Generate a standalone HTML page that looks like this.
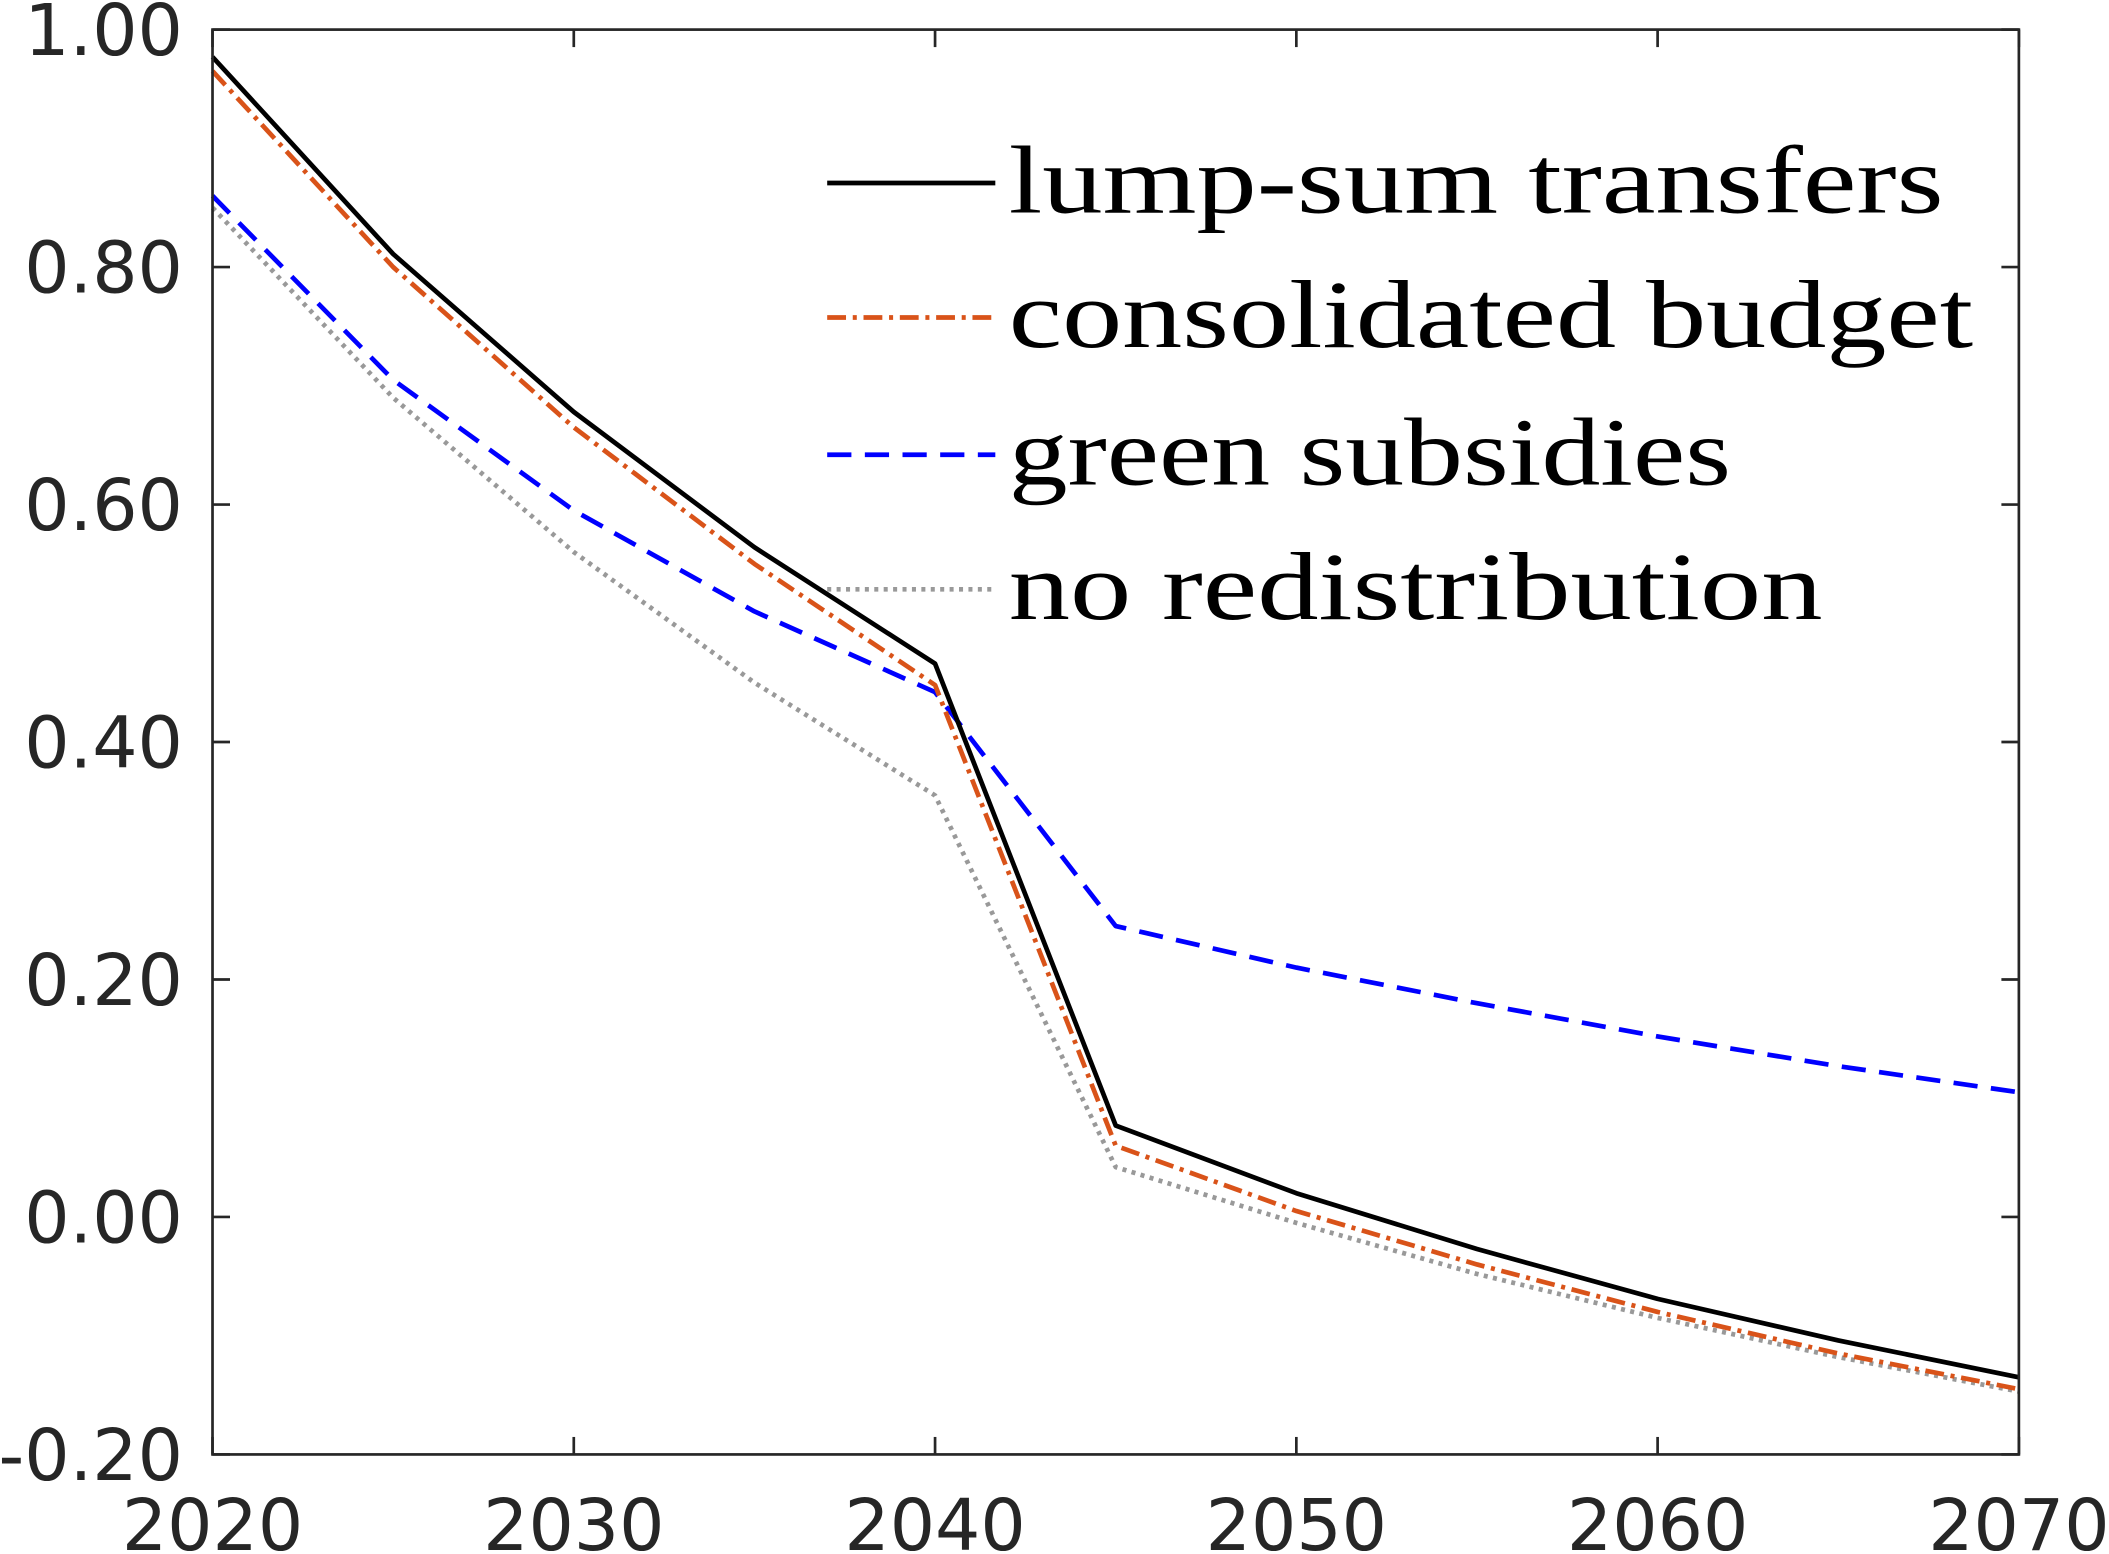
<!DOCTYPE html>
<html><head><meta charset="utf-8"><style>html,body{margin:0;padding:0;background:#fff}svg{display:block}</style></head>
<body>
<svg id="chart" width="2109" height="1554" viewBox="0 0 1568 1155" preserveAspectRatio="none" xmlns="http://www.w3.org/2000/svg">
<g id="plot"></g>
</svg>
<script>
const years = [2020,2025,2030,2035,2040,2045,2050,2055,2060,2065,2070];
const lumpSum = [0.977,0.811,0.678,0.564,0.466,0.077,0.020,-0.027,-0.069,-0.104,-0.135];
const consolidated = [0.965,0.800,0.665,0.550,0.448,0.060,0.005,-0.040,-0.080,-0.115,-0.145];
const greenSubs = [0.860,0.705,0.595,0.510,0.442,0.245,0.210,0.180,0.152,0.127,0.105];
const noRedist = [0.850,0.690,0.560,0.450,0.355,0.042,-0.005,-0.048,-0.085,-0.118,-0.147];
const yTicks = [-0.2,0,0.2,0.4,0.6,0.8,1.0];
const yTickLabels = ["-0.20","0.00","0.20","0.40","0.60","0.80","1.00"];
const xTicks = [2020,2030,2040,2050,2060,2070];
const xTickLabels = ["2020","2030","2040","2050","2060","2070"];
const legendLabels = ["lump-sum transfers","consolidated budget","green subsidies","no redistribution"];

const L=158,R=1501,T=22,B=1081;
const xs=v=>L+(v-2020)/(2070-2020)*(R-L);
const ys=v=>B-(v+0.2)/1.2*(B-T);
const NS="http://www.w3.org/2000/svg";
const g=document.getElementById('plot');
function mk(tag,attrs,parent){const e=document.createElementNS(NS,tag);for(const k in attrs)e.setAttribute(k,attrs[k]);(parent||g).appendChild(e);return e;}

const series=[
 {d:lumpSum,c:"#000000",dash:"",name:"series-lump-sum"},
 {d:consolidated,c:"#d95319",dash:"14 5 3 5",name:"series-consolidated-budget"},
 {d:greenSubs,c:"#0000ff",dash:"18 10",name:"series-green-subsidies"},
 {d:noRedist,c:"#999999",dash:"3 4",name:"series-no-redistribution"}
];
[3,2,1,0].forEach(i=>{const s=series[i];
 const p=mk('polyline',{points:s.d.map((v,j)=>xs(years[j])+','+ys(v)).join(' '),fill:'none',stroke:s.c,'stroke-width':3.5,'stroke-dasharray':s.dash,'stroke-linejoin':'round'});
 
 
});

const box=mk('rect',{x:L,y:T,width:R-L,height:B-T,fill:'none',stroke:'#262626','stroke-width':2});



yTicks.forEach((v,i)=>{const y=ys(v);
 mk('line',{x1:L,x2:L+13,y1:y,y2:y,stroke:'#262626','stroke-width':2});
 mk('line',{x1:R,x2:R-13,y1:y,y2:y,stroke:'#262626','stroke-width':2});
 const t=mk('text',{x:136,y:y+19,'text-anchor':'end','font-family':'DejaVu Sans, Liberation Sans, sans-serif','font-size':53,fill:'#262626'});
 t.textContent=yTickLabels[i];
 
 
});
xTicks.forEach((v,i)=>{const x=xs(v);
 mk('line',{x1:x,x2:x,y1:B,y2:B-13,stroke:'#262626','stroke-width':2});
 mk('line',{x1:x,x2:x,y1:T,y2:T+13,stroke:'#262626','stroke-width':2});
 const t=mk('text',{x:x,y:1152,'text-anchor':'middle','font-family':'DejaVu Sans, Liberation Sans, sans-serif','font-size':53,fill:'#262626'});
 t.textContent=xTickLabels[i];
 
 
});

const legY=[136,236,338,438];
const legW=[695,717,537,605];
legendLabels.forEach((lab,i)=>{const s=series[i];
 const ln=mk('line',{x1:615,x2:740,y1:legY[i],y2:legY[i],stroke:s.c,'stroke-width':3.5,'stroke-dasharray':s.dash});
 
 
 const t=mk('text',{x:750,y:legY[i]+22,'font-family':'Liberation Serif, serif','font-size':72,fill:'#000',textLength:legW[i],lengthAdjust:'spacingAndGlyphs'});
 t.textContent=lab;
 
 
});
</script>
</body></html>
